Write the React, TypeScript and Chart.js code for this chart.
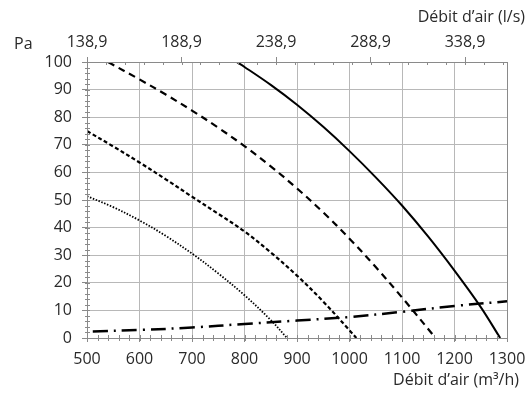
import { useEffect, useRef } from 'react';
import { Chart, registerables } from 'chart.js';

Chart.register(...registerables);

// Top axis (l/s) ticks, positioned at their m³/h equivalents
const topTickValues = [500, 680, 860, 1040, 1220];
const topTickLabels = ['138,9', '188,9', '238,9', '288,9', '338,9'];

// Curve 1 (solid)
const c1Q = [785, 800, 850, 900, 950, 1000, 1050, 1100, 1150, 1200, 1250, 1287];
const c1P = [100, 98.2, 91.7, 84.5, 76.5, 67.7, 58.2, 48, 36.7, 24.4, 11.2, 0];

// Curve 2 (long dashes)
const c2Q = [540, 600, 650, 700, 750, 800, 850, 900, 950, 1000, 1050, 1100, 1164];
const c2P = [100, 93.7, 88.2, 82.4, 76.2, 69.5, 62.2, 54.2, 45.5, 36, 25.7, 14.7, 0];

// Curve 3 (short dashes)
const c3Q = [500, 550, 600, 650, 700, 750, 800, 850, 900, 950, 1000, 1013];
const c3P = [75, 69.4, 63.6, 57.5, 51.2, 45, 38.6, 31, 22.6, 13.2, 2.8, 0];

// Curve 4 (dotted)
const c4Q = [500, 550, 600, 650, 700, 750, 800, 850, 881];
const c4P = [51.4, 47.4, 42.6, 37, 30.6, 23.4, 15.5, 6.5, 0];

// System curve (dash-dot)
const sysQ = [511, 600, 700, 800, 900, 1000, 1100, 1200, 1300];
const sysP = [2.4, 2.9, 3.8, 5.1, 6.3, 7.6, 9.5, 11.6, 13.3];

const yLabel = 'Pa';
const topTitle = 'Débit d’air (l/s)';
const bottomTitle = 'Débit d’air (m³/h)';

const FONT = '"Open Sans", "Noto Sans", sans-serif';
const FSIZE = 16;
const TEXT = '#2a2a2a';
const AXIS = '#8a8a8a';
const GRID = '#b8b8b8';

const pts = (q: number[], p: number[]) => q.map((x, i) => ({ x, y: p[i] }));

const decorPlugin = {
  id: 'decor',
  afterDraw(chart: any) {
    const { ctx, chartArea: a, scales } = chart;
    const xs = scales.x;
    const ys = scales.y;
    ctx.save();
    ctx.strokeStyle = AXIS;
    ctx.lineWidth = 1;
    ctx.beginPath();
    for (let v = 500; v <= 1300; v += 20) {
      const px = Math.round(xs.getPixelForValue(v)) + 0.5;
      ctx.moveTo(px, a.bottom - 3);
      ctx.lineTo(px, a.bottom + 3);
    }
    for (let v = 500; v <= 1300; v += 36) {
      const px = Math.round(xs.getPixelForValue(v)) + 0.5;
      ctx.moveTo(px, a.top);
      ctx.lineTo(px, a.top + 3);
    }
    for (let v = 0; v <= 100; v += 2) {
      const py = Math.round(ys.getPixelForValue(v)) + 0.5;
      ctx.moveTo(a.left - 2, py);
      ctx.lineTo(a.left + 3, py);
    }
    ctx.stroke();
    ctx.strokeRect(Math.round(a.left) + 0.5, Math.round(a.top) + 0.5, Math.round(a.right - a.left), Math.round(a.bottom - a.top));

    ctx.fillStyle = TEXT;
    ctx.font = `${FSIZE}px ${FONT}`;
    ctx.textBaseline = 'middle';
    ctx.textAlign = 'left';
    ctx.fillText(yLabel, 14, 44);
    ctx.textAlign = 'right';
    ctx.fillText(topTitle, 525, 17);
    ctx.fillText(bottomTitle, 519, 380);
    ctx.restore();
  },
};

export default function App() {
  const ref = useRef<HTMLCanvasElement>(null);

  useEffect(() => {
    if (!ref.current) return;
    const common = { pointRadius: 0, fill: false, borderColor: '#000', tension: 0.35 };
    const tickFont = { family: FONT, size: FSIZE };
    const chart = new Chart(ref.current, {
      type: 'line',
      data: {
        datasets: [
          { ...common, data: pts(c1Q, c1P), borderWidth: 2 },
          { ...common, data: pts(c2Q, c2P), borderWidth: 2.2, borderDash: [7, 5] },
          { ...common, data: pts(c3Q, c3P), borderWidth: 2.2, borderDash: [4, 2.5] },
          { ...common, data: pts(c4Q, c4P), borderWidth: 1.8, borderDash: [1.5, 1.6] },
          { ...common, data: pts(sysQ, sysP), borderWidth: 2.5, borderDash: [15, 6, 2, 6] },
        ],
      },
      options: {
        responsive: false,
        animation: false,
        events: [],
        layout: { padding: { left: 0, right: 25, top: 0, bottom: 0 } },
        plugins: { legend: { display: false }, tooltip: { enabled: false } },
        scales: {
          x: {
            type: 'linear',
            position: 'bottom',
            min: 500,
            max: 1300,
            ticks: {
              stepSize: 100,
              color: TEXT,
              font: tickFont,
              padding: 8,
              maxRotation: 0,
              callback: (v: any) => String(v),
            },
            grid: { color: GRID, tickColor: AXIS, tickLength: 4 },
            border: { color: AXIS },
            afterFit: (s: any) => { s.height = 58; s.paddingLeft = 0; s.paddingRight = 0; },
          },
          x2: {
            type: 'linear',
            position: 'top',
            min: 500,
            max: 1300,
            afterBuildTicks: (s: any) => { s.ticks = topTickValues.map((v) => ({ value: v })); },
            ticks: {
              color: TEXT,
              font: tickFont,
              padding: 5,
              maxRotation: 0,
              autoSkip: false,
              callback: (_v: any, i: number) => topTickLabels[i],
            },
            grid: { drawOnChartArea: false, tickColor: AXIS, tickLength: 5 },
            border: { color: AXIS },
            afterFit: (s: any) => { s.height = 62; s.paddingLeft = 0; s.paddingRight = 0; },
          },
          y: {
            type: 'linear',
            min: 0,
            max: 100,
            ticks: { stepSize: 10, color: TEXT, font: tickFont, padding: 10, callback: (v: any) => String(v) },
            grid: { color: GRID, tickColor: AXIS, tickLength: 5 },
            border: { color: AXIS },
            afterFit: (s: any) => { s.width = 87; s.paddingTop = 0; s.paddingBottom = 0; },
          },
        },
      },
      plugins: [decorPlugin],
    });
    return () => chart.destroy();
  }, []);

  return (
    <div style={{ position: 'fixed', left: 0, top: 0, width: 532, height: 396, background: '#fff' }}>
      <canvas ref={ref} width={532} height={396} style={{ display: 'block' }} />
    </div>
  );
}
